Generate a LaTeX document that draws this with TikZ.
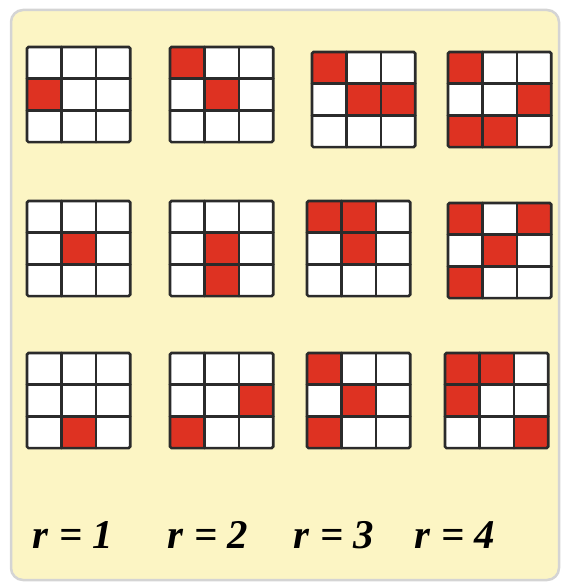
\documentclass[tikz,border=0pt]{standalone}
\usepackage{fontspec}
\setmainfont{Liberation Serif}
\usepackage{tikz}
\usetikzlibrary{positioning}

\definecolor{paneyellow}{HTML}{FCF5C4}
\definecolor{paneedge}{HTML}{D4D4D4}
\definecolor{cellred}{HTML}{DE3222}
\definecolor{cellline}{HTML}{2B2B2B}

\tikzset{
	pane/.style={fill=paneyellow, draw=paneedge, line width=2.5bp, rounded corners=12bp}
}
\tikzset{
	redcell/.style={fill=cellred},
	gridline/.style={draw=cellline, line width=2.6bp, line cap=round}
}
\tikzset{
	rlabel/.style={anchor=base, font=\fontsize{41}{41}\selectfont\bfseries\itshape}
}

% cell width and height
\def\cw{34.4}
\def\ch{31.7}

% one 3x3 pattern: top-left corner, then the red cells as row/col
\newcommand{\patgrid}[3]{%
  \fill[white] (#1,#2) rectangle ++(3*\cw,3*\ch);
  \foreach \r/\c in {#3}
    \fill[redcell] ({#1+(\c-1)*\cw},{#2+(\r-1)*\ch}) rectangle ++(\cw,\ch);
  \foreach \i in {1,2}{
    \draw[gridline] ({#1+\i*\cw},#2) -- ++(0,3*\ch);
    \draw[gridline] (#1,{#2+\i*\ch}) -- ++(3*\cw,0);
  }
  \draw[gridline, rounded corners=1.5bp] (#1,#2) rectangle ++(3*\cw,3*\ch);
}

\begin{document}
\begin{tikzpicture}[x=1bp, y=-1bp]
      \useasboundingbox (0,0) rectangle (561,584);
      \draw[pane] (11,10) rectangle (559,580);

      % first row of patterns
      \patgrid{27}{47}{2/1}
      \patgrid{170}{47}{1/1, 2/2}
      \patgrid{312}{52}{1/1, 2/2, 2/3}
      \patgrid{448}{52}{1/1, 2/3, 3/1, 3/2}

      % second row
      \patgrid{27}{201}{2/2}
      \patgrid{170}{201}{2/2, 3/2}
      \patgrid{307}{201}{1/1, 1/2, 2/2}
      \patgrid{448}{203}{1/1, 1/3, 2/2, 3/1}

      % third row
      \patgrid{27}{353}{3/2}
      \patgrid{170}{353}{2/3, 3/1}
      \patgrid{307}{353}{1/1, 2/2, 3/1}
      \patgrid{445}{353}{1/1, 1/2, 2/1, 3/3}

      % the labels under the columns
      \node[rlabel] (r1) at (73,548) {r = 1};
      \node[rlabel] (r2) at (208,548) {r = 2};
      \node[rlabel] (r3) at (334,548) {r = 3};
      \node[rlabel] (r4) at (455,548) {r = 4};
    \end{tikzpicture}
\end{document}
